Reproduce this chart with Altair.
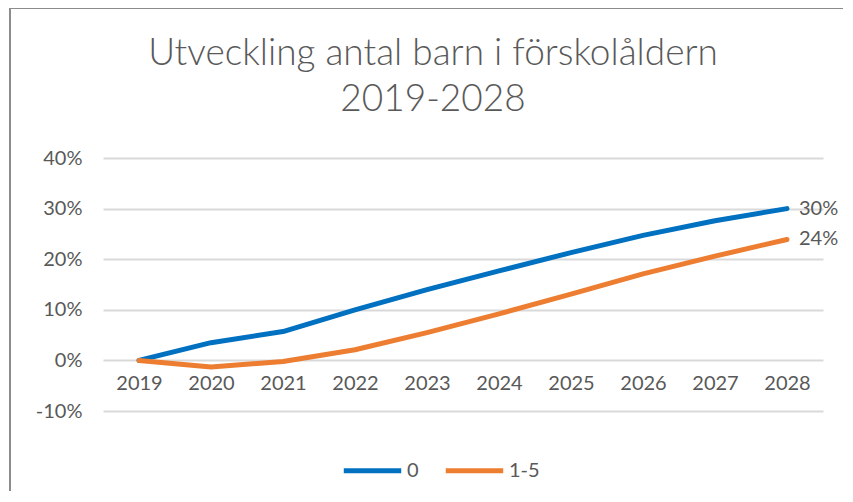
import altair as alt
import pandas as pd

years = ["2019", "2020", "2021", "2022", "2023", "2024", "2025", "2026", "2027", "2028"]
series_names = ["0", "1-5"]
s0 = [0.0, 0.035, 0.057, 0.100, 0.140, 0.177, 0.213, 0.247, 0.276, 0.300]
s15 = [0.0, -0.013, -0.002, 0.021, 0.055, 0.092, 0.131, 0.171, 0.206, 0.239]
y_ticks = [-0.1, 0.0, 0.1, 0.2, 0.3, 0.4]
title_lines = ["Utveckling antal barn i förskolåldern", "2019-2028"]
colors = ["#0070C0", "#ED7D31"]

rows = []
for name, vals in zip(series_names, [s0, s15]):
    for yr, v in zip(years, vals):
        rows.append({"year": yr, "serie": name, "value": v})
df = pd.DataFrame(rows)
last = df[df["year"] == years[-1]]

W, H = 720, 253
FONT = "Lato"
TXT = "#595959"

x_enc = alt.X("year:O", sort=years, title=None,
              axis=alt.Axis(labelAngle=0, domain=False, ticks=False, grid=False,
                            labelPadding=13, offset=-H / 5, labelFontSize=20,
                            labelColor=TXT, labelFont=FONT))
y_enc = alt.Y("value:Q", title=None,
              scale=alt.Scale(domain=[-0.1, 0.4], nice=False),
              axis=alt.Axis(values=y_ticks, format=".0%", domain=False, ticks=False,
                            labelExpr="replace(datum.label, '\u2212', '-')",
                            labelPadding=21, labelFontSize=20, labelColor=TXT,
                            labelFont=FONT, gridColor="#d9d9d9", gridWidth=2))

color_enc = alt.Color("serie:N", sort=series_names,
                      scale=alt.Scale(domain=series_names, range=colors),
                      legend=alt.Legend(title=None, orient="none", direction="horizontal",
                                        legendX=238, legendY=281, symbolType="stroke",
                                        symbolSize=3300, symbolStrokeWidth=5,
                                        labelFontSize=20, labelColor=TXT, labelFont=FONT,
                                        labelOffset=3, columnPadding=16))

lines = alt.Chart(df).mark_line(strokeWidth=5, strokeCap="round", strokeJoin="round").encode(
    x=x_enc, y=y_enc, color=color_enc
)

labels = alt.Chart(last).mark_text(align="left", dx=12, fontSize=20, color=TXT, font=FONT).encode(
    x=alt.X("year:O", sort=years),
    y=alt.Y("value:Q"),
    text=alt.Text("value:Q", format=".0%"),
)

border = alt.Chart(pd.DataFrame({"a": [0]})).mark_rect(
    fill=None, stroke="#8c8c8c", strokeWidth=2
).encode(x=alt.value(-93), x2=alt.value(800), y=alt.value(-150), y2=alt.value(600))

title_df = pd.DataFrame({"line": title_lines, "idx": [0, 1]})
title1 = alt.Chart(title_df.iloc[[0]]).mark_text(
    fontSize=37, font=FONT, fontWeight=300, color=TXT, baseline="middle", align="center"
).encode(x=alt.value(330), y=alt.value(-104), text="line:N")
title2 = alt.Chart(title_df.iloc[[1]]).mark_text(
    fontSize=37, font=FONT, fontWeight=300, color=TXT, baseline="middle", align="center"
).encode(x=alt.value(330), y=alt.value(-58), text="line:N")

chart = alt.layer(border, title1, title2, lines, labels).properties(
    width=W, height=H,
    padding={"left": 95, "top": 150, "right": 20, "bottom": 80},
    autosize=alt.AutoSizeParams(type="none"),
).configure_view(stroke=None)

chart.save("out.html", embed_options={"renderer": "svg", "actions": False})
